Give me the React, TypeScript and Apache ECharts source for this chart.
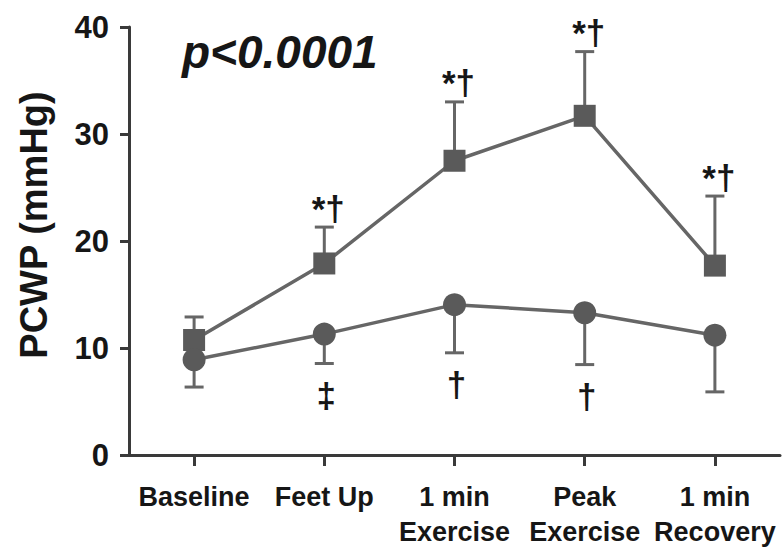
import React, { useEffect, useRef } from "react";
import * as echarts from "echarts";

const categories = ["Baseline", "Feet Up", "1 min\nExercise", "Peak\nExercise", "1 min\nRecovery"];
const squareMeans = [10.75, 17.9, 27.5, 31.7, 17.7];
const squareUpper = [12.9, 21.3, 33.0, 37.7, 24.2];
const squareMarks = ["", "*†", "*†", "*†", "*†"];
const circleMeans = [8.9, 11.3, 14.05, 13.3, 11.2];
const circleLower = [6.35, 8.55, 9.55, 8.45, 5.9];
const circleMarks = ["", "‡", "†", "†", ""];
const yTicks = [0, 10, 20, 30, 40];
const pText = "p<0.0001";
const yName = "PCWP (mmHg)";

const FONT = "'Liberation Sans', Arial, Helvetica, sans-serif";
const GREY = "#5a5a5a";
const LINE_GREY = "#666666";
const DARK = "#161616";

function errorSeries(means: number[], ends: number[], marks: string[], up: boolean) {
  return {
    type: "custom",
    z: 1,
    data: means.map((m, i) => [i, m, ends[i]]),
    renderItem: (params: any, api: any) => {
      const i = api.value(0);
      const p0 = api.coord([i, api.value(1)]);
      const p1 = api.coord([i, api.value(2)]);
      const capHalf = 9.5;
      const mark = marks[params.dataIndex];
      const children: any[] = [
        {
          type: "line",
          shape: { x1: p0[0], y1: p0[1], x2: p1[0], y2: p1[1] },
          style: { stroke: LINE_GREY, lineWidth: 3 },
        },
        {
          type: "line",
          shape: { x1: p1[0] - capHalf, y1: p1[1], x2: p1[0] + capHalf, y2: p1[1] },
          style: { stroke: LINE_GREY, lineWidth: 3 },
        },
      ];
      if (mark) {
        children.push({
          type: "text",
          x: p1[0] + (up ? 4 : 2),
          y: p1[1] + (up ? -19 : 32),
          style: {
            text: mark,
            fontFamily: FONT,
            fontSize: 35,
            fontWeight: "bold",
            fill: DARK,
            align: "center",
            verticalAlign: "middle",
          },
        });
      }
      return { type: "group", children };
    },
  };
}

export default function App() {
  const ref = useRef<HTMLDivElement>(null);
  useEffect(() => {
    if (!ref.current) return;
    const chart = echarts.init(ref.current, undefined, { renderer: "svg" });
    chart.setOption({
      animation: false,
      backgroundColor: "#ffffff",
      grid: { left: 129, right: 4, top: 27, bottom: 87, containLabel: false },
      xAxis: {
        type: "category",
        data: categories,
        boundaryGap: true,
        axisLine: { show: true, lineStyle: { color: "#3a3a3a", width: 3 } },
        axisTick: { show: true, alignWithLabel: true, length: 11, lineStyle: { color: "#3a3a3a", width: 3 } },
        axisLabel: {
          interval: 0,
          fontFamily: FONT,
          fontSize: 27,
          fontWeight: "bold",
          color: DARK,
          lineHeight: 35,
          margin: 24,
        },
        splitLine: { show: false },
      },
      yAxis: {
        type: "value",
        min: yTicks[0],
        max: yTicks[yTicks.length - 1],
        interval: 10,
        axisLine: { show: true, lineStyle: { color: "#3a3a3a", width: 3 } },
        axisTick: { show: true, length: 9, lineStyle: { color: "#3a3a3a", width: 3 } },
        axisLabel: { fontFamily: FONT, fontSize: 31, fontWeight: "bold", color: DARK, margin: 20 },
        splitLine: { show: false },
      },
      graphic: [
        {
          type: "text",
          left: 182,
          top: 29,
          style: {
            text: pText,
            fontFamily: FONT,
            fontSize: 46,
            fontWeight: "bold",
            fontStyle: "italic",
            fill: DARK,
          },
        },
        {
          type: "text",
          x: 34,
          y: 225,
          rotation: Math.PI / 2,
          style: {
            text: yName,
            fontFamily: FONT,
            fontSize: 38,
            fontWeight: "bold",
            fill: DARK,
            align: "center",
            verticalAlign: "middle",
          },
        },
      ],
      series: [
        errorSeries(squareMeans, squareUpper, squareMarks, true),
        errorSeries(circleMeans, circleLower, circleMarks, false),
        {
          type: "line",
          data: squareMeans,
          symbol: "rect",
          symbolSize: 22,
          z: 3,
          itemStyle: { color: GREY },
          lineStyle: { color: LINE_GREY, width: 3.5 },
        },
        {
          type: "line",
          data: circleMeans,
          symbol: "circle",
          symbolSize: 23,
          z: 4,
          itemStyle: { color: GREY },
          lineStyle: { color: LINE_GREY, width: 3.5 },
        },
      ],
    });
    return () => chart.dispose();
  }, []);
  return <div ref={ref} style={{ width: 784, height: 549, position: "absolute", left: 0, top: 0 }} />;
}
